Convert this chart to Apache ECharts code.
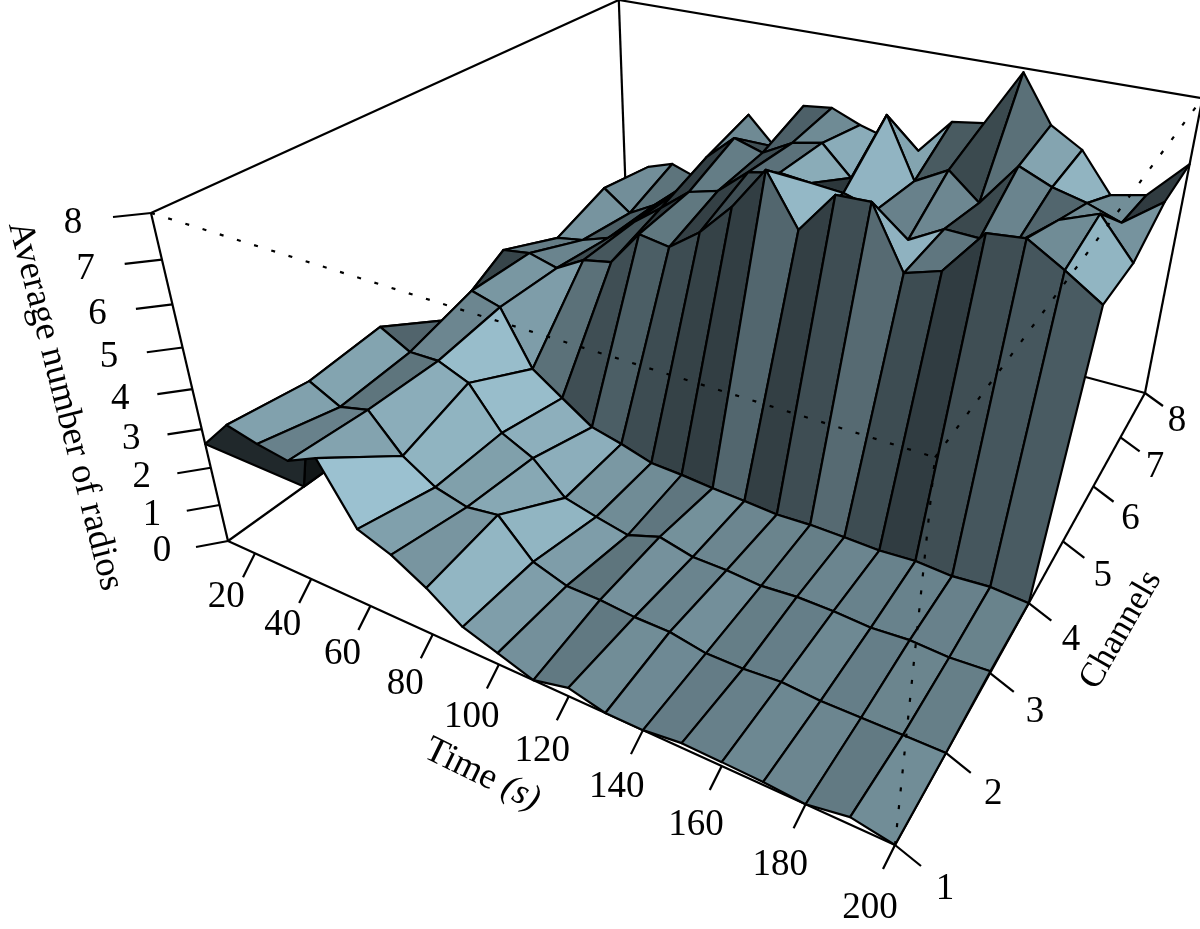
<!DOCTYPE html>
<html><head><meta charset="utf-8">
<style>html,body{margin:0;padding:0;background:#fff}#c{width:1200px;height:929px}</style>
<script src="https://cdn.jsdelivr.net/npm/echarts@6/dist/echarts.min.js"></script>
</head><body><div id="c"></div>
<script>
// Data: average number of radios per channel, one value per time step
const times = [10,20,30,40,50,60,70,80,90,100,110,120,130,140,150,160,170,180,190,200];
const channels = [1,2,3,4,5,6,7,8];
const ch1 = [2.62,3.39,3.21,3.09,3.46,2.02,1.71,1.22,0.59,0.3,0,0.22,0,0,0.12,0.1,0.07,0,0.18,0];
const ch2 = [0,3.19,2.79,2.99,2.08,1.56,1.35,1.47,0.56,0.27,0.26,0.18,0.17,0,0,0.07,0,0,0,0];
const ch3 = [0,3.41,2.98,3.0,2.67,1.59,1.19,0.39,0.18,0,0.29,0.08,0.07,0,0.07,0.06,0,0.06,0,0.05];
const ch4 = [0,2.45,3.5,3.28,1.8,1.23,0.67,0.47,0.22,0.18,0.11,0.06,0,0.04,0.03,0,0.06,0,0.07,0];
const ch5 = [0,3.38,3.5,3.29,3.73,3.89,4.85,4.72,5.31,6.14,7.22,5.97,7.0,7.03,5.56,5.83,6.91,7.0,6.5,5.95];
const ch6 = [0,2.74,2.88,3.15,3.81,4.41,5.04,5.26,5.94,6.1,6.02,5.95,5.71,5.15,5.63,5.6,5.7,6.45,6.79,5.84];
const ch7 = [0,3.32,2.74,3.18,3.82,4.96,5.67,5.43,5.87,6.04,5.27,7.1,5.55,6.02,5.35,6.48,6.13,5.92,5.62,6.33];
const ch8 = [0,3.11,3.38,3.12,4.38,5.38,4.6,5.95,6.05,5.73,5.5,5.34,6.3,6.43,7.9,6.7,6.22,5.21,5.4,6.38];
const timeTicks = [20,40,60,80,100,120,140,160,180,200];
const channelTicks = [1,2,3,4,5,6,7,8];
const heightTicks = [0,1,2,3,4,5,6,7,8];
const matrix = [ch1,ch2,ch3,ch4,ch5,ch6,ch7,ch8];

// Perspective camera (homogeneous view matrix, unit box -> page units)
const view = [
  [452.1, 655.1, -97.7, 228],
  [101.1, -183.8, -357.2, 541],
  [-0.24012, 0.40625, -0.137, 1]
];
const tMin = 10, tMax = 200, cMin = 1, cMax = 8, zMax = 8;
function project(t, c, z) {
  const u = (t - tMin) / (tMax - tMin), v = (c - cMin) / (cMax - cMin), s = z / zMax;
  const W = view[2][0]*u + view[2][1]*v + view[2][2]*s + view[2][3];
  return [(view[0][0]*u + view[0][1]*v + view[0][2]*s + view[0][3]) / W,
          (view[1][0]*u + view[1][1]*v + view[1][2]*s + view[1][3]) / W];
}

// Lambert-style facet shading
const light = [0.88, 0.33, 0.28], baseColor = [163, 203, 218], zExpand = 0.5, shadeExp = 1;
function facetColor(i, j) {
  const P = (a, b) => [2*(times[a]-tMin)/(tMax-tMin), 2*(channels[b]-cMin)/(cMax-cMin), 2*zExpand*matrix[b][a]/zMax];
  const a = P(i, j), b = P(i+1, j+1), c = P(i+1, j), d = P(i, j+1);
  const e = [b[0]-a[0], b[1]-a[1], b[2]-a[2]], f = [d[0]-c[0], d[1]-c[1], d[2]-c[2]];
  let n = [f[1]*e[2]-f[2]*e[1], f[2]*e[0]-f[0]*e[2], f[0]*e[1]-f[1]*e[0]];
  if (n[2] < 0) n = n.map(x => -x);
  const len = Math.hypot(n[0], n[1], n[2]);
  const dot = (n[0]*light[0] + n[1]*light[1] + n[2]*light[2]) / len;
  const k = Math.pow(Math.max(0, (1 + dot) / 2), shadeExp);
  return 'rgb(' + baseColor.map(x => Math.round(x*k)).join(',') + ')';
}

// Cells from back to front
const cells = [];
for (let i = 0; i < times.length - 1; i++)
  for (let j = channels.length - 2; j >= 0; j--) cells.push([i, j]);

const T0 = tMin, T1 = tMax, C0 = cMin, C1 = cMax;
const backEdges = [
  [[T0,C0,0],[T1,C0,0]], [[T1,C0,0],[T1,C1,0]], [[T0,C0,0],[T0,C1,0]], [[T0,C1,0],[T1,C1,0]],
  [[T0,C1,0],[T0,C1,zMax]], [[T0,C0,0],[T0,C0,zMax]], [[T1,C1,0],[T1,C1,zMax]],
  [[T0,C0,zMax],[T0,C1,zMax]], [[T0,C1,zMax],[T1,C1,zMax]]
];
const frontEdges = [
  [[T0,C0,zMax],[T1,C0,zMax]], [[T1,C0,zMax],[T1,C1,zMax]], [[T1,C0,0],[T1,C0,zMax]]
];

const serif = '"Liberation Serif","Times New Roman",serif';
const black = '#000';
const lw = 2.2;

function lineEl(api, a, b, extra) {
  const p = api.coord(a), q = api.coord(b);
  return {type:'line', shape:{x1:p[0],y1:p[1],x2:q[0],y2:q[1]},
    style:Object.assign({stroke:black,lineWidth:lw,fill:null}, extra||{})};
}
function labelEl(api, pos, text, size) {
  const p = api.coord(pos);
  return {type:'text', x:p[0], y:p[1],
    style:{text:text, fill:black, font:(size||37)+'px '+serif, align:'center', verticalAlign:'middle'}};
}
const lerp = (a,b,f) => a + (b-a)*f;

const base = {type:'custom', coordinateSystem:'cartesian2d', clip:false, silent:true, animation:false, encode:{x:0,y:1}};

const option = {
  animation:false,
  backgroundColor:'#fff',
  grid:{left:0,right:0,top:0,bottom:0},
  xAxis:{type:'value',min:0,max:1200,show:false},
  yAxis:{type:'value',min:0,max:929,inverse:true,show:false},
  series:[
    Object.assign({}, base, {name:'box', z:1, data:backEdges.map((e,k)=>[k]),
      renderItem:(p,api)=>{const e=backEdges[api.value(0)]; return lineEl(api, project(...e[0]), project(...e[1]));}}),
    Object.assign({}, base, {name:'time ticks', z:1, data:timeTicks.map(t=>[t]),
      renderItem:(p,api)=>{const t=api.value(0), f=(t-tMin)/(tMax-tMin), a=project(t,cMin,0);
        return {type:'group',children:[
          lineEl(api,a,[a[0]-12,a[1]+24]),
          labelEl(api,[a[0]+lerp(-29,-25,f),a[1]+lerp(43,63,f)],String(t))]};}}),
    Object.assign({}, base, {name:'channel ticks', z:1, data:channelTicks.map(c=>[c]),
      renderItem:(p,api)=>{const c=api.value(0), f=(c-cMin)/(cMax-cMin), a=project(tMax,c,0);
        return {type:'group',children:[
          lineEl(api,a,[a[0]+lerp(26,18,f),a[1]+lerp(21,13,f)]),
          labelEl(api,[a[0]+lerp(50,32,f),a[1]+lerp(44,28,f)],String(c))]};}}),
    Object.assign({}, base, {name:'height ticks', z:1, data:heightTicks.map(h=>[h]),
      renderItem:(p,api)=>{const h=api.value(0), f=h/zMax, a=project(tMin,cMin,h);
        return {type:'group',children:[
          lineEl(api,a,[a[0]+lerp(-32,-38,f),a[1]+lerp(6,4,f)]),
          labelEl(api,[a[0]+lerp(-66,-78,f),a[1]+lerp(10,10,f)],String(h))]};}}),
    Object.assign({}, base, {name:'surface', z:2, data:cells,
      renderItem:(p,api)=>{const i=api.value(0), j=api.value(1);
        const corner=(a,b)=>api.coord(project(times[a],channels[b],matrix[b][a]));
        return {type:'polygon',shape:{points:[corner(i,j),corner(i+1,j),corner(i+1,j+1),corner(i,j+1)]},
          style:{fill:facetColor(i,j),stroke:black,lineWidth:lw,lineJoin:'round'}};}}),
    Object.assign({}, base, {name:'front edges', z:3, data:frontEdges.map((e,k)=>[k]),
      renderItem:(p,api)=>{const e=frontEdges[api.value(0)];
        return lineEl(api, project(...e[0]), project(...e[1]), {lineDash:[4,14]});}}),
    Object.assign({}, base, {name:'axis titles', z:4, data:[[0]],
      renderItem:(p,api)=>{
        const a=api.coord([65,406]), b=api.coord([1121,630]), c=api.coord([482,775]);
        const st=(t,s)=>({text:t,fill:black,font:s+'px '+serif,align:'center',verticalAlign:'middle'});
        return {type:'group',children:[
          {type:'text',x:a[0],y:a[1],rotation:-75.7*Math.PI/180,style:st('Average number of radios',36.5)},
          {type:'text',x:b[0],y:b[1],rotation:60*Math.PI/180,style:st('Channels',35)},
          {type:'text',x:c[0],y:c[1],rotation:-26*Math.PI/180,style:{
            text:'{a|Time }{b|(s)}',align:'center',verticalAlign:'middle',
            rich:{a:{fill:black,font:'37px '+serif},b:{fill:black,font:'italic 36px '+serif}}}}
        ]};}})
  ]
};
echarts.init(document.getElementById('c'),null,{renderer:'canvas'}).setOption(option);
</script></body></html>
